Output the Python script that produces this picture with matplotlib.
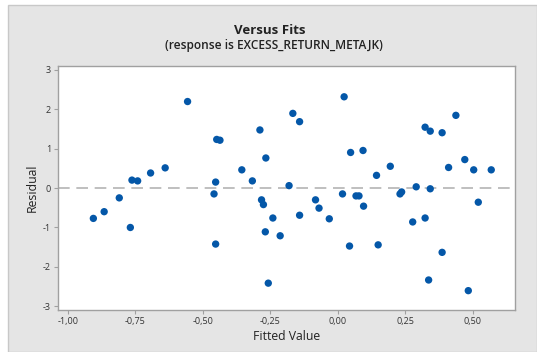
import matplotlib
matplotlib.use("Agg")
import matplotlib.pyplot as plt
from matplotlib.patches import Rectangle

plt.rcParams['font.family'] = ['Open Sans', 'DejaVu Sans']

# Fitted values and residuals
fitted = [-0.906, -0.866, -0.810, -0.769, -0.763, -0.742, -0.694, -0.640, -0.557,
          -0.459, -0.453, -0.453, -0.449, -0.437, -0.356, -0.317, -0.289, -0.283,
          -0.276, -0.269, -0.267, -0.258, -0.241, -0.214, -0.181, -0.167, -0.142,
          -0.142, -0.083, -0.070, -0.032, 0.017, 0.023, 0.043, 0.047, 0.067, 0.078,
          0.093, 0.095, 0.143, 0.149, 0.194, 0.230, 0.236, 0.277, 0.290, 0.323,
          0.323, 0.336, 0.342, 0.342, 0.386, 0.386, 0.410, 0.437, 0.470, 0.483,
          0.503, 0.520, 0.568]
residual = [-0.77, -0.60, -0.25, -1.00, 0.20, 0.18, 0.38, 0.51, 2.19,
            -0.15, 0.15, -1.42, 1.23, 1.21, 0.46, 0.18, 1.47, -0.30,
            -0.42, -1.11, 0.76, -2.41, -0.76, -1.21, 0.06, 1.89, 1.68,
            -0.69, -0.30, -0.51, -0.78, -0.15, 2.31, -1.47, 0.90, -0.20, -0.20,
            0.95, -0.46, 0.32, -1.44, 0.55, -0.15, -0.10, -0.86, 0.03, 1.54,
            -0.76, -2.33, 1.44, -0.02, 1.40, -1.63, 0.52, 1.84, 0.72, -2.60,
            0.46, -0.36, 0.46]

x_ticks = [-1.00, -0.75, -0.50, -0.25, 0.00, 0.25, 0.50]
x_tick_labels = ["-1,00", "-0,75", "-0,50", "-0,25", "0,00", "0,25", "0,50"]
y_ticks = [-3, -2, -1, 0, 1, 2, 3]
y_tick_labels = ["-3", "-2", "-1", "0", "1", "2", "3"]

W, H = 537, 352
fig = plt.figure(figsize=(W / 100, H / 100), dpi=100, facecolor='white')

# grey panel behind the chart
panel = Rectangle((8 / W, 0), 1 - 8 / W, 1 - 5 / H, transform=fig.transFigure,
                  facecolor='#e5e5e5', edgecolor='#c8c8c8', linewidth=1.0, zorder=-10)
fig.patches.append(panel)

ax = fig.add_axes([58 / W, 1 - 310 / H, (515 - 58) / W, (310 - 66) / H])
ax.set_zorder(5)
ax.set_facecolor('white')

ax.axhline(0, color='#b4b4b4', linewidth=1.2, linestyle=(0, (7, 4)), zorder=1)
ax.scatter(fitted, residual, s=28, color='#0457a8', edgecolors='none', zorder=3)

ax.set_xlim(-1.037, 0.656)
ax.set_ylim(-3.09, 3.09)
ax.set_xticks(x_ticks)
ax.set_xticklabels(x_tick_labels)
ax.set_yticks(y_ticks)
ax.set_yticklabels(y_tick_labels)
ax.tick_params(axis='both', labelsize=6.5, colors='#333333', length=3, width=0.8,
               color='#a0a0a0', pad=2)

for side in ['top', 'right', 'left', 'bottom']:
    ax.spines[side].set_color('#a0a0a0')
    ax.spines[side].set_linewidth(1.0)

ax.set_xlabel('Fitted Value', fontsize=8.8, color='#222222', labelpad=3)
ax.set_ylabel('Residual', fontsize=8.8, color='#222222', labelpad=3)

fig.text(270 / W, 1 - 30 / H, 'Versus Fits', ha='center', va='center',
         fontsize=9.5, fontweight='bold', color='#222222')
fig.text(274 / W, 1 - 46 / H, '(response is EXCESS_RETURN_METAJK)',
         ha='center', va='center', fontsize=8.6, fontweight='semibold', color='#222222')

fig.savefig('out.png', dpi=100, facecolor=fig.get_facecolor())
